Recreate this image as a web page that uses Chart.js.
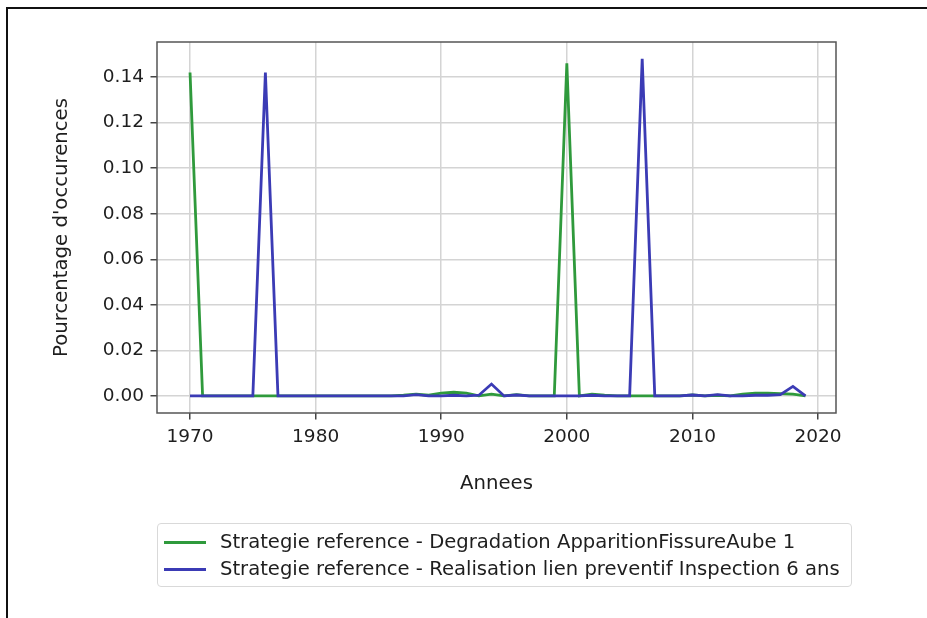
<!DOCTYPE html>
<html>
<head>
<meta charset="utf-8">
<script src="https://cdn.jsdelivr.net/npm/chart.js@4.4.0/dist/chart.umd.min.js"></script>
<style>
  html, body { margin: 0; padding: 0; background: #fff; }
  #wrap { position: relative; width: 927px; height: 618px; overflow: hidden; }
  #myChart { position: absolute; left: 0; top: 0; }
  #cadre { position: absolute; left: 6px; top: 7px; right: -10px; bottom: -10px;
           border-top: 2px solid #111; border-left: 2px solid #111; pointer-events: none; }
  #legende { position: absolute; left: 157px; top: 523px; width: 695px; height: 64px;
             box-sizing: border-box; border: 1px solid #d9d9d9; border-radius: 4px;
             padding: 4px 6px; font-family: 'DejaVu Sans'; font-size: 19.6px; color: #1e1e1e; }
  .ligne { height: 27px; line-height: 27px; white-space: nowrap; }
  .trait { display: inline-block; width: 42px; border-top: 3px solid; vertical-align: middle; margin-right: 14px; }
</style>
</head>
<body>
<div id="wrap">
  <canvas id="myChart" width="927" height="618"></canvas>
  <div id="legende"></div>
  <div id="cadre"></div>
</div>
<script>
// annees (axe x)
const annees = [1970, 1971, 1972, 1973, 1974, 1975, 1976, 1977, 1978, 1979,
                1980, 1981, 1982, 1983, 1984, 1985, 1986, 1987, 1988, 1989,
                1990, 1991, 1992, 1993, 1994, 1995, 1996, 1997, 1998, 1999,
                2000, 2001, 2002, 2003, 2004, 2005, 2006, 2007, 2008, 2009,
                2010, 2011, 2012, 2013, 2014, 2015, 2016, 2017, 2018, 2019];

// Strategie reference - Degradation ApparitionFissureAube 1
const degradation = [0.142, 0, 0, 0, 0, 0, 0, 0, 0, 0,
                     0, 0, 0, 0, 0, 0, 0, 0.0003, 0.0008, 0.0003,
                     0.0012, 0.0016, 0.0012, 0, 0.0008, 0, 0.0006, 0, 0, 0,
                     0.146, 0, 0.0008, 0.0003, 0, 0, 0, 0, 0, 0,
                     0.0004, 0, 0.0003, 0, 0.0008, 0.0012, 0.0012, 0.001, 0.0008, 0];

// Strategie reference - Realisation lien preventif Inspection 6 ans
const inspection = [0, 0, 0, 0, 0, 0, 0.142, 0, 0, 0,
                    0, 0, 0, 0, 0, 0, 0, 0, 0.0006, 0,
                    0, 0.0003, 0, 0.0003, 0.0052, 0, 0.0004, 0, 0, 0,
                    0, 0, 0.0003, 0, 0, 0, 0.148, 0, 0, 0,
                    0.0004, 0, 0.0006, 0, 0, 0.0003, 0.0003, 0.0006, 0.0042, 0];

const labelsSeries = ['Strategie reference - Degradation ApparitionFissureAube 1',
                      'Strategie reference - Realisation lien preventif Inspection 6 ans'];

const ticksX = [1970, 1980, 1990, 2000, 2010, 2020];
const ticksY = [0, 0.02, 0.04, 0.06, 0.08, 0.10, 0.12, 0.14];

Chart.defaults.font.family = 'DejaVu Sans';
Chart.defaults.font.size = 18.5;
Chart.defaults.color = '#1e1e1e';

// cadre du graphique (haut et droite)
const cadrePlugin = {
    id: 'cadre',
    afterDraw(chart) {
        const {ctx, chartArea: a} = chart;
        ctx.save();
        ctx.strokeStyle = '#555';
        ctx.lineWidth = 1.5;
        ctx.strokeRect(a.left, a.top, a.right - a.left, a.bottom - a.top);
        ctx.restore();
    }
};

const grille = {
    color: '#d4d4d4',
    lineWidth: 1.5,
    tickLength: 6.5,
    tickColor: '#444',
    tickWidth: 1.5
};

const chart = new Chart(document.getElementById('myChart'), {
    type: 'line',
    data: {
        datasets: [
            {
                label: labelsSeries[0],
                data: annees.map((a, i) => ({x: a, y: degradation[i]})),
                borderColor: '#2f9a3c',
                borderWidth: 2.8,
                pointRadius: 0,
                fill: false,
                order: 1
            },
            {
                label: labelsSeries[1],
                data: annees.map((a, i) => ({x: a, y: inspection[i]})),
                borderColor: '#3b3bb5',
                borderWidth: 2.8,
                pointRadius: 0,
                fill: false,
                order: 0
            }
        ]
    },
    options: {
        responsive: false,
        animation: false,
        layout: { padding: { top: 42, right: 91, bottom: 122, left: 0 } },
        plugins: {
            legend: { display: false },
            tooltip: { enabled: false }
        },
        scales: {
            x: {
                type: 'linear',
                min: 1967.37,
                max: 2021.43,
                grid: grille,
                border: { display: false },
                ticks: {
                    padding: 7,
                    maxRotation: 0,
                    callback: v => String(v)
                },
                afterBuildTicks: s => { s.ticks = ticksX.map(v => ({value: v})); },
                afterFit: s => { s.height = 83; },
                title: { display: true, text: 'Annees', font: { size: 19.7 }, padding: 0 }
            },
            y: {
                min: -0.0075,
                max: 0.1554,
                grid: grille,
                border: { display: false },
                ticks: {
                    padding: 6.5,
                    callback: v => v.toFixed(2)
                },
                afterBuildTicks: s => { s.ticks = ticksY.map(v => ({value: v})); },
                afterFit: s => { s.width = 157; },
                title: { display: true, text: "Pourcentage d'occurences", font: { size: 19.7 }, padding: { top: 50, bottom: 0 } }
            }
        }
    },
    plugins: [cadrePlugin]
});

// legende en HTML, construite depuis les datasets
const legende = document.getElementById('legende');
chart.data.datasets.forEach(ds => {
    const ligne = document.createElement('div');
    ligne.className = 'ligne';
    const trait = document.createElement('span');
    trait.className = 'trait';
    trait.style.borderColor = ds.borderColor;
    ligne.appendChild(trait);
    ligne.appendChild(document.createTextNode(ds.label));
    legende.appendChild(ligne);
});
</script>
</body>
</html>
